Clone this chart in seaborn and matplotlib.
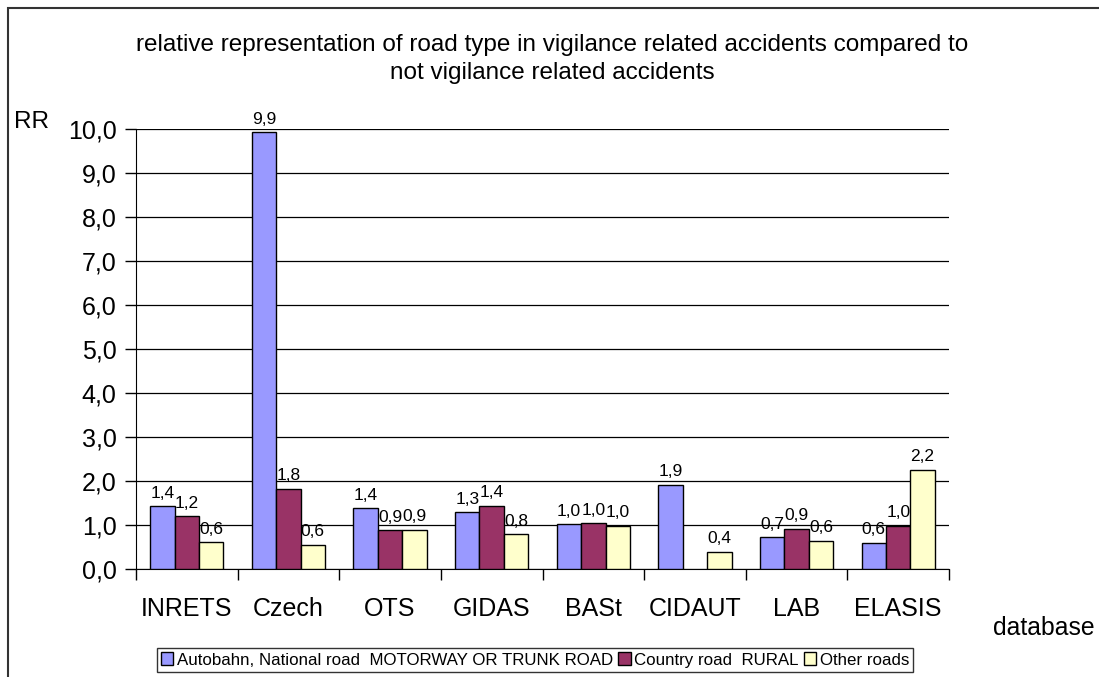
import numpy as np
import pandas as pd
import seaborn as sns
import matplotlib.pyplot as plt
from matplotlib.patches import Rectangle
from matplotlib.ticker import FuncFormatter, FixedLocator

# data
databases = ['INRETS', 'Czech', 'OTS', 'GIDAS', 'BASt', 'CIDAUT', 'LAB', 'ELASIS']
road_types = ['Autobahn, National road  MOTORWAY OR TRUNK ROAD',
              'Country road  RURAL',
              'Other roads']
autobahn = [1.43, 9.93, 1.38, 1.29, 1.02, 1.92, 0.72, 0.60]
country = [1.20, 1.82, 0.88, 1.44, 1.04, np.nan, 0.92, 0.98]
other = [0.61, 0.55, 0.89, 0.79, 0.98, 0.39, 0.64, 2.25]
colors = ['#9999FF', '#993366', '#FFFFCC']

rows = []
for road, vals in zip(road_types, [autobahn, country, other]):
    for db, v in zip(databases, vals):
        rows.append({'database': db, 'road': road, 'RR': v})
df = pd.DataFrame(rows).dropna()

sns.set_style('white')
plt.rcParams['font.family'] = ['Liberation Sans', 'DejaVu Sans']
plt.rcParams['text.color'] = 'black'
plt.rcParams['xtick.color'] = 'black'
plt.rcParams['ytick.color'] = 'black'

fig = plt.figure(figsize=(10.99, 6.77), dpi=100)
ax = fig.add_axes([136 / 1099, 108 / 677, 813 / 1099, 440 / 677])

sns.barplot(data=df, x='database', y='RR', hue='road', order=databases,
            hue_order=road_types, palette=colors, width=0.72, errorbar=None,
            edgecolor='black', linewidth=1.0, saturation=1, ax=ax, zorder=3)

# value labels with decimal comma
for cont in ax.containers:
    labels = [f'{b.get_height():.1f}'.replace('.', ',') for b in cont]
    ax.bar_label(cont, labels=labels, padding=4, fontsize=12.5, color='black')

ax.set_ylim(0, 10)
ax.set_xlim(-0.5, len(databases) - 0.5)
ax.set_yticks(np.arange(0, 11, 1))
ax.yaxis.set_major_formatter(FuncFormatter(lambda v, p: f'{v:.1f}'.replace('.', ',')))
ax.grid(axis='y', color='black', linewidth=0.9, zorder=0)
ax.set_axisbelow(True)

ax.tick_params(axis='x', which='major', length=0, labelsize=18, pad=20, labelcolor='black')
ax.xaxis.set_minor_locator(FixedLocator(np.arange(-0.5, len(databases), 1)))
ax.tick_params(axis='x', which='minor', length=8, width=1, color='black', direction='out', bottom=True)
ax.tick_params(axis='y', length=8, width=1, color='black', direction='out', left=True,
               labelsize=18, pad=6, labelcolor='black')

for side in ['top', 'right']:
    ax.spines[side].set_visible(False)
ax.spines['left'].set_color('black')
ax.spines['bottom'].set_color('black')
ax.set_xlabel('')
ax.set_ylabel('')

handles, labels = ax.get_legend_handles_labels()
ax.legend_.remove()
leg = fig.legend(handles, labels, loc='center', bbox_to_anchor=(535 / 1099, 1 - 660 / 677),
                 ncol=3, fontsize=12.2, frameon=True, fancybox=False, edgecolor='black',
                 handlelength=0.75, handleheight=0.75, handletextpad=0.2, columnspacing=0.3,
                 borderpad=0.25, borderaxespad=0)
leg.get_frame().set_linewidth(1.0)

fig.text(552 / 1099, 1 - 59 / 677,
         'relative representation of road type in vigilance related accidents compared to\n'
         'not vigilance related accidents',
         ha='center', va='center', fontsize=17.5, linespacing=1.33)
fig.text(31 / 1099, 1 - 122 / 677, 'RR', ha='center', va='center', fontsize=17.5)
fig.text(1044 / 1099, 1 - 628 / 677, 'database', ha='center', va='center', fontsize=17.8)

# outer chart frame (runs off the right and bottom edges)
fig.patches.append(Rectangle((8 / 1099, -0.1), 1.2, 1.1 - 8 / 677, transform=fig.transFigure,
                             fill=False, edgecolor='#333333', linewidth=1.5))

fig.savefig('out.png', dpi=100)
